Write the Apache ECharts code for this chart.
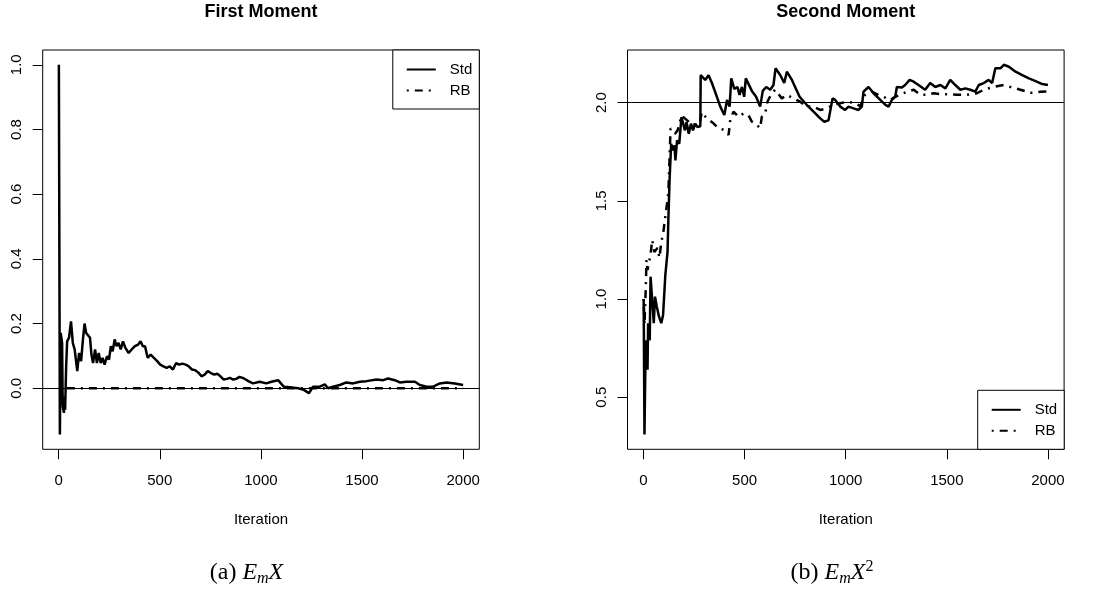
<!DOCTYPE html>
<html>
<head>
<meta charset="utf-8">
<title>First and Second Moment</title>
<script src="https://cdn.jsdelivr.net/npm/echarts@6.0.0/dist/echarts.min.js"></script>
<style>
  html, body { margin: 0; padding: 0; background: #fff; }
  #chart { width: 1094px; height: 592px; }
</style>
</head>
<body>
<div id="chart"></div>
<script>
// tick labels
const iterTicks = [0, 500, 1000, 1500, 2000]
const firstTicks = [0, 0.2, 0.4, 0.6, 0.8, 1.0]
const secondTicks = [0.5, 1.0, 1.5, 2.0]
// reference lines (true moments)
const firstTarget = 0
const secondTarget = 2
const seriesNames = ['Std', 'RB']

// running estimates, [iteration, value]
const stdFirst = [
  [1, 1.0], [6, -0.143], [10, 0.171], [17, 0.140], [20, -0.056], [26, -0.076], [29, -0.025],
  [32, -0.066], [37, 0.068], [42, 0.145], [51, 0.156], [61, 0.207], [70, 0.140], [79, 0.120],
  [92, 0.053], [101, 0.109], [111, 0.084], [120, 0.151], [128, 0.200], [136, 0.171], [145, 0.176],
  [155, 0.156], [162, 0.104], [170, 0.078], [180, 0.120], [189, 0.078], [198, 0.109], [208, 0.078],
  [217, 0.094], [227, 0.073], [239, 0.099], [249, 0.089], [258, 0.130], [267, 0.114], [277, 0.151],
  [286, 0.130], [296, 0.140], [307, 0.120], [318, 0.145], [330, 0.125], [346, 0.109], [361, 0.120],
  [377, 0.130], [393, 0.135], [405, 0.145], [416, 0.130], [427, 0.130], [440, 0.094], [455, 0.104],
  [471, 0.094], [487, 0.084], [502, 0.073], [518, 0.068], [534, 0.063], [549, 0.068], [565, 0.058],
  [581, 0.078], [596, 0.073], [612, 0.076], [628, 0.073], [643, 0.068], [659, 0.058], [675, 0.056],
  [690, 0.049], [706, 0.037], [722, 0.042], [737, 0.053], [753, 0.047], [769, 0.042], [784, 0.045],
  [800, 0.037], [816, 0.027], [832, 0.029], [847, 0.032], [863, 0.027], [878, 0.029], [894, 0.035],
  [910, 0.032], [925, 0.027], [938, 0.022], [961, 0.015], [994, 0.020], [1027, 0.015], [1052, 0.020],
  [1085, 0.025], [1113, 0.005], [1143, 0.003], [1184, 0.000], [1212, -0.005], [1238, -0.015],
  [1258, 0.005], [1291, 0.005], [1316, 0.012], [1332, 0.000], [1357, 0.005], [1390, 0.010],
  [1423, 0.018], [1456, 0.015], [1489, 0.020], [1522, 0.022], [1572, 0.027], [1605, 0.025],
  [1629, 0.030], [1662, 0.025], [1687, 0.018], [1720, 0.020], [1762, 0.020], [1786, 0.010],
  [1819, 0.005], [1852, 0.005], [1885, 0.015], [1918, 0.018], [1959, 0.015], [2000, 0.010]
]
const rbFirst = [[1, 0], [500, 0], [1000, 0], [1500, 0], [2000, 0]]

const stdSecond = [
  [1, 1.0], [5, 0.31], [11, 0.79], [20, 0.64], [23, 0.877], [31, 0.79], [35, 1.114], [42, 1.12],
  [51, 0.877], [57, 1.012], [66, 0.961], [77, 0.91], [88, 0.877], [97, 0.919], [103, 0.928],
  [108, 1.12], [119, 1.24], [123, 1.40], [129, 1.604], [137, 1.791], [145, 1.757], [153, 1.783],
  [158, 1.706], [166, 1.808], [177, 1.791], [188, 1.927], [197, 1.935], [205, 1.859], [213, 1.902],
  [224, 1.842], [235, 1.893], [245, 1.859], [256, 1.893], [267, 1.876], [281, 1.88], [283, 2.141],
  [305, 2.116], [322, 2.14], [339, 2.099], [363, 2.03], [380, 1.98], [400, 1.937], [413, 2.014],
  [426, 1.98], [434, 2.124], [449, 2.07], [465, 2.08], [475, 2.04], [487, 2.08], [498, 2.03],
  [506, 2.124], [536, 2.06], [557, 2.03], [577, 1.98], [590, 2.06], [607, 2.08], [627, 2.066],
  [643, 2.09], [653, 2.175], [676, 2.141], [696, 2.10], [709, 2.158], [734, 2.116], [772, 2.03],
  [808, 1.988], [841, 1.954], [874, 1.92], [894, 1.903], [915, 1.91], [923, 1.903], [935, 2.022],
  [948, 2.014], [973, 1.98], [997, 1.963], [1014, 1.98], [1039, 1.971], [1063, 1.963], [1080, 1.98],
  [1088, 2.056], [1113, 2.08], [1138, 2.048], [1171, 2.014], [1195, 1.99], [1212, 1.98],
  [1228, 2.014], [1245, 2.03], [1253, 2.08], [1278, 2.077], [1294, 2.09], [1316, 2.116],
  [1336, 2.107], [1360, 2.09], [1393, 2.066], [1418, 2.10], [1443, 2.08], [1468, 2.09],
  [1493, 2.073], [1517, 2.116], [1542, 2.09], [1567, 2.066], [1592, 2.073], [1616, 2.066],
  [1641, 2.056], [1658, 2.09], [1683, 2.10], [1707, 2.116], [1724, 2.10], [1740, 2.175],
  [1765, 2.175], [1782, 2.193], [1807, 2.183], [1840, 2.158], [1873, 2.14], [1906, 2.124],
  [1939, 2.11], [1972, 2.095], [2000, 2.09]
]
const rbSecond = [
  [1, 1.0], [5, 0.87], [11, 1.045], [15, 1.199], [20, 1.148], [26, 1.182], [35, 1.225], [43, 1.301],
  [54, 1.24], [69, 1.26], [79, 1.21], [88, 1.29], [97, 1.33], [108, 1.42], [116, 1.48], [123, 1.54],
  [134, 1.868], [145, 1.859], [156, 1.842], [169, 1.859], [188, 1.935], [216, 1.91], [240, 1.885],
  [264, 1.893], [280, 1.902], [288, 1.952], [313, 1.92], [346, 1.895], [371, 1.87], [396, 1.862],
  [421, 1.836], [429, 1.911], [445, 1.954], [470, 1.928], [495, 1.945], [519, 1.937], [536, 1.903],
  [552, 1.895], [577, 1.87], [585, 1.928], [602, 1.945], [613, 2.005], [630, 2.04], [651, 2.066],
  [684, 2.022], [709, 2.04], [742, 2.022], [775, 2.005], [808, 1.98], [841, 1.98], [874, 1.963],
  [907, 1.971], [940, 1.99], [973, 1.997], [1006, 2.005], [1039, 2.0], [1072, 1.983], [1096, 2.04],
  [1129, 2.056], [1162, 2.04], [1187, 2.03], [1220, 2.014], [1245, 2.03], [1270, 2.04],
  [1303, 2.056], [1336, 2.066], [1369, 2.04], [1402, 2.04], [1435, 2.048], [1468, 2.043],
  [1501, 2.043], [1550, 2.04], [1600, 2.04], [1649, 2.048], [1683, 2.066], [1732, 2.08],
  [1782, 2.09], [1815, 2.08], [1864, 2.066], [1914, 2.05], [1964, 2.056], [2000, 2.058]
]

const SANS = '"Liberation Sans", Arial, Helvetica, sans-serif'
const SERIF = '"Liberation Serif", "Times New Roman", serif'

// R default axis range: data extent padded 4% on each side
const padRange = (values) => {
  const lo = Math.min(...values)
  const hi = Math.max(...values)
  const pad = (hi - lo) * 0.04
  return [lo - pad, hi + pad]
}

const panels = [
  {
    title: 'First Moment', caption: '(a) {i|E}{sub|m}{i|X}', captionX: 246.5,
    left: 42.7, std: stdFirst, rb: rbFirst, yTicks: firstTicks, target: firstTarget,
    legendPos: { right: 1094 - 479.3, top: 50 }
  },
  {
    title: 'Second Moment', caption: '(b) {i|E}{sub|m}{i|X}{sup|2}', captionX: 832,
    left: 627.5, std: stdSecond, rb: rbSecond, yTicks: secondTicks, target: secondTarget,
    legendPos: { right: 1094 - 1064.2, bottom: 592 - 449.3 }
  }
]

const plotTop = 50
const plotWidth = 436.6
const plotHeight = 399.3

const tickStyle = { show: true, length: 10, lineStyle: { color: '#000', width: 1 } }
const labelText = { fontFamily: SANS, fontSize: 15, color: '#000' }

const grid = []
const xAxis = []
const yAxis = []
const series = []
const legend = []
const title = []

panels.forEach((p, i) => {
  const xRange = padRange(p.std.concat(p.rb).map(d => d[0]))
  const yRange = padRange(p.std.concat(p.rb).map(d => d[1]))
  const centerX = p.left + plotWidth / 2

  grid.push({
    left: p.left, top: plotTop, width: plotWidth, height: plotHeight,
    show: true, borderColor: '#000', borderWidth: 1, backgroundColor: 'transparent',
    outerBoundsMode: 'none'
  })

  xAxis.push({
    type: 'value', gridIndex: i, min: xRange[0], max: xRange[1],
    axisLine: { show: false, onZero: false },
    axisTick: { ...tickStyle, customValues: iterTicks },
    axisLabel: { ...labelText, margin: 24, customValues: iterTicks, formatter: v => String(v) },
    splitLine: { show: false },
    name: 'Iteration', nameLocation: 'middle', nameGap: 63,
    nameTextStyle: labelText
  })

  yAxis.push({
    type: 'value', gridIndex: i, min: yRange[0], max: yRange[1],
    axisLine: { show: false, onZero: false },
    axisTick: { ...tickStyle, customValues: p.yTicks },
    axisLabel: {
      ...labelText, margin: 18, rotate: 90, customValues: p.yTicks,
      formatter: v => v.toFixed(1)
    },
    splitLine: { show: false }
  })

  series.push({
    name: seriesNames[0], type: 'line', xAxisIndex: i, yAxisIndex: i,
    data: p.std, symbol: 'none', showSymbol: false,
    itemStyle: { color: '#000' },
    lineStyle: { color: '#000', width: 2.5 },
    markLine: {
      silent: true, symbol: 'none', label: { show: false },
      lineStyle: { color: '#000', width: 1, type: 'solid' },
      data: [{ yAxis: p.target }]
    }
  })
  series.push({
    name: seriesNames[1], type: 'line', xAxisIndex: i, yAxisIndex: i,
    data: p.rb, symbol: 'none', showSymbol: false,
    itemStyle: { color: '#000' },
    lineStyle: { color: '#000', width: 2.5, type: [2, 6, 8, 6] }
  })

  legend.push({
    data: seriesNames, orient: 'vertical', ...p.legendPos,
    itemWidth: 29, itemHeight: 14, itemGap: 6,
    padding: [12, 7, 11, 13],
    backgroundColor: '#fff', borderColor: '#000', borderWidth: 1, borderRadius: 0,
    selectedMode: false,
    // hide the symbol, keep only the line sample
    itemStyle: { opacity: 0 },
    textStyle: { ...labelText, lineHeight: 14, padding: [0, 0, 0, 9] }
  })

  title.push({
    text: p.title, left: centerX, top: 3, textAlign: 'center', padding: 0,
    textStyle: { fontFamily: SANS, fontSize: 18, fontWeight: 'bold', color: '#000', lineHeight: 18 }
  })
  title.push({
    text: p.caption, left: p.captionX, top: 559, textAlign: 'center', padding: 0,
    textStyle: {
      fontFamily: SERIF, fontSize: 24, fontWeight: 'normal', color: '#000', lineHeight: 28,
      rich: {
        i: { fontFamily: SERIF, fontSize: 24, fontStyle: 'italic', color: '#000', lineHeight: 28 },
        sub: { fontFamily: SERIF, fontSize: 16, fontStyle: 'italic', color: '#000', lineHeight: 16, verticalAlign: 'bottom' },
        sup: { fontFamily: SERIF, fontSize: 16, color: '#000', lineHeight: 16, verticalAlign: 'top' }
      }
    }
  })
})

const chart = echarts.init(document.getElementById('chart'))
chart.setOption({
  animation: false,
  backgroundColor: '#fff',
  title,
  legend,
  grid,
  xAxis,
  yAxis,
  series
})
</script>
</body>
</html>
